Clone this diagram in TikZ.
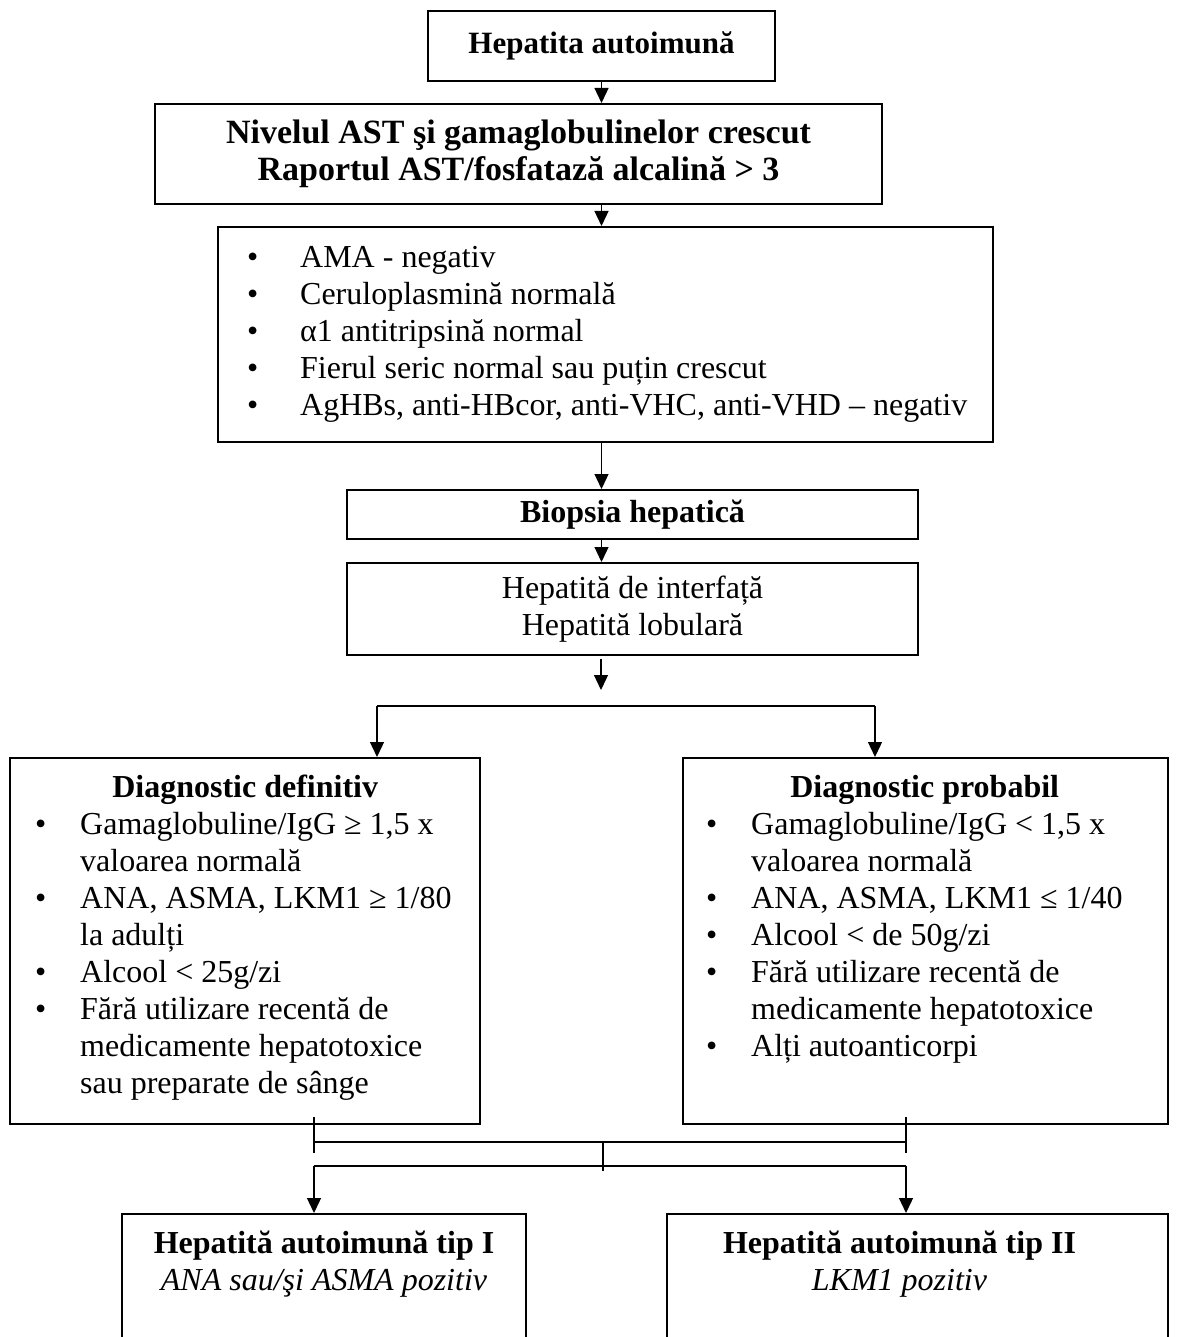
\documentclass[tikz,border=0pt]{standalone}
\usepackage{fontspec}
\setmainfont{Liberation Serif}
\usetikzlibrary{arrows.meta,positioning}
\newcommand{\bulpt}[1][45pt]{\makebox[#1][l]{\textbullet}}
\newcommand{\bulsp}[1][45pt]{\hspace*{#1}}

\begin{document}
\begin{tikzpicture}[x=1pt, y=-1pt,
  box/.style={draw, line width=2pt, anchor=north west, inner sep=0pt},
  txt/.style={font=\fontsize{32}{37}\selectfont, align=center},
  lst/.style={font=\fontsize{32}{37}\selectfont, align=left, inner sep=0pt},
  link/.style={line width=1.3pt},
  arr/.style={link, -{Triangle[length=15pt, width=14pt]}}]
\useasboundingbox (0,0) rectangle (1177,1337);
\clip (0,0) rectangle (1177,1337);
% main chain
\node[box, txt, font=\fontsize{31}{36}\selectfont, minimum width=347,
  minimum height=70] (start) at (427,10) {\textbf{Hepatita autoimună}};
\node[box, txt, font=\fontsize{34}{37}\selectfont, minimum width=727,
  minimum height=100] (level) at (154,103)
  {\textbf{Nivelul AST şi gamaglobulinelor crescut}\\
   \textbf{Raportul AST/fosfatază alcalină > 3}};
\node[box, minimum width=775, minimum height=215] (tests) at (217,226) {};
\node[lst, right=30pt of tests.west] (teststext)
  {\bulpt[53pt]AMA - negativ\\
   \bulpt[53pt]Ceruloplasmină normală\\
   \bulpt[53pt]α1 antitripsină normal\\
   \bulpt[53pt]Fierul seric normal sau puțin crescut\\
   \bulpt[53pt]AgHBs, anti-HBcor, anti-VHC, anti-VHD – negativ};
\node[box, txt, minimum width=571, minimum height=49] (biopsy) at (346,489)
  {\textbf{Biopsia hepatică}};
\node[box, txt, minimum width=571, minimum height=92] (histo) at (346,562)
  {Hepatită de interfață\\Hepatită lobulară};
\draw[arr] (start.south) -- (start.south |- level.north);
\draw[arr] (start.south |- level.south) -- (start.south |- tests.north);
\draw[arr] (start.south |- tests.south) -- (start.south |- biopsy.north);
\draw[arr] (start.south |- biopsy.south) -- (start.south |- histo.north);
% split towards the two diagnoses
\coordinate (fork) at (601,706);
\coordinate (forkl) at (377,706);
\coordinate (forkr) at (875,706);
\draw[arr] (histo.south -| fork) ++(0,3) -- ([yshift=16pt]fork);
\draw[link] (forkl) -- (forkr);
% diagnosis boxes
\node[box, minimum width=470, minimum height=366] (defin) at (9,757) {};
\node[lst, below right=18pt and 26pt of defin.north west] (defintext)
  {\makebox[420pt]{\textbf{Diagnostic definitiv}}\\
   \bulpt Gamaglobuline/IgG ≥ 1,5 x\\
   \bulsp valoarea normală\\
   \bulpt ANA, ASMA, LKM1 ≥ 1/80\\
   \bulsp la adulți\\
   \bulpt Alcool < 25g/zi\\
   \bulpt Fără utilizare recentă de\\
   \bulsp medicamente hepatotoxice\\
   \bulsp sau preparate de sânge};
\node[box, minimum width=485, minimum height=366] (prob) at (682,757) {};
\node[lst, below right=18pt and 24pt of prob.north west] (probtext)
  {\makebox[437pt]{\textbf{Diagnostic probabil}}\\
   \bulpt Gamaglobuline/IgG < 1,5 x\\
   \bulsp valoarea normală\\
   \bulpt ANA, ASMA, LKM1 ≤ 1/40\\
   \bulpt Alcool < de 50g/zi\\
   \bulpt Fără utilizare recentă de\\
   \bulsp medicamente hepatotoxice\\
   \bulpt Alți autoanticorpi};
\draw[arr] (forkl) -- (forkl |- defin.north);
\draw[arr] (forkr) -- (forkr |- prob.north);
% joining lines
\coordinate (tickl) at (314,1117);
\coordinate (tickr) at (906,1117);
\coordinate (joinmid) at (603,1142);
\coordinate (splitmid) at (603,1166);
\draw[link] (tickl) -- ++(0,36);
\draw[link] (tickr) -- ++(0,36);
\draw[link] (tickl |- joinmid) -- (tickr |- joinmid);
\draw[link] (joinmid) -- ++(0,29);
\draw[link] (tickl |- splitmid) -- (tickr |- splitmid);
% types
\node[box, minimum width=404, minimum height=200] (tipone) at (121,1213) {};
\node[txt, inner sep=0pt, below=18pt of tipone.north] (tiponetext)
  {\textbf{Hepatită autoimună tip I}\\\textit{ANA sau/şi ASMA pozitiv}};
\node[box, minimum width=501, minimum height=200] (tiptwo) at (666,1213) {};
\node[txt, inner sep=0pt, below=18pt of tiptwo.north, xshift=-18pt] (tiptwotext)
  {\textbf{Hepatită autoimună tip II}\\\textit{LKM1 pozitiv}};
\draw[arr] (tickl |- splitmid) -- (tickl |- tipone.north);
\draw[arr] (tickr |- splitmid) -- (tickr |- tiptwo.north);
\end{tikzpicture}
\end{document}
